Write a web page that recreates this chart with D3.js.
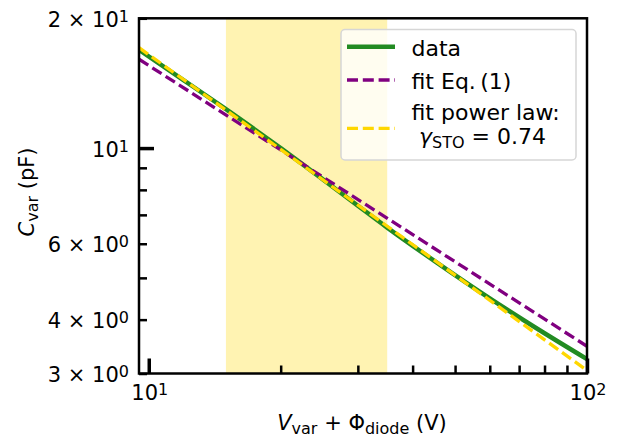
<!DOCTYPE html>
<html>
<head>
<meta charset="utf-8">
<script src="https://cdn.jsdelivr.net/npm/d3@7"></script>
<style>
  html, body { margin: 0; padding: 0; background: #fff; }
  svg { display: block; font-family: "DejaVu Sans", sans-serif; }
</style>
</head>
<body>
<svg id="chart" width="623" height="438"></svg>
<script>
// ---- data ----
const xData   = [9.5, 12, 15, 20, 25, 30, 35, 45, 60, 80, 100];
const cData   = [16.9, 14.38, 12.31, 10.0, 8.45, 7.35, 6.54, 5.46, 4.48, 3.72, 3.24];
const xFitEq  = [9.5, 20, 50, 100];
const cFitEq  = [16.07, 9.9, 5.45, 3.47];
const xFitPow = [9.5, 20, 100];
const cFitPow = [17.1, 9.93, 3.05];
const shadeRange = [15, 35];

const xMajorTicks = [10, 100];
const xMinorTicks = [20, 30, 40, 50, 60, 70, 80, 90];
const xTickMant = ["10", "10"];
const xTickExp  = ["1", "2"];
const yMajorTicks = [10];
const yMinorTicks = [3, 4, 5, 6, 7, 8, 9, 20];
const yLabelTicks = [3, 4, 6, 10, 20];
const yTickMant = ["3 × 10", "4 × 10", "6 × 10", "10", "2 × 10"];
const yTickExp  = ["0", "0", "0", "1", "1"];

const legendLabels = ["data", "fit Eq.\u2009(1)", "fit power law:"];

// ---- layout ----
const L = 139, R = 587, T = 18.3, B = 373.5;
const FS = 21, FSS = 16, LFS = 22, LFSS = 16;
const svg = d3.select("#chart");

const x = d3.scaleLog().domain([9.5, 100]).range([L, R]);
const y = d3.scaleLog().domain([3, 20]).range([B, T]);

svg.append("defs").append("clipPath").attr("id", "clip")
  .append("rect").attr("x", L).attr("y", T).attr("width", R - L).attr("height", B - T);

// shaded span
svg.append("rect")
  .attr("x", x(shadeRange[0])).attr("y", T)
  .attr("width", x(shadeRange[1]) - x(shadeRange[0])).attr("height", B - T)
  .attr("fill", "#FFD700").attr("fill-opacity", 0.3);

// lines
const g = svg.append("g").attr("clip-path", "url(#clip)");
const mk = (xs, cs) => xs.map((v, i) => [v, cs[i]]);
const line = d3.line().x(d => x(d[0])).y(d => y(d[1])).curve(d3.curveMonotoneX);
const lineStraight = d3.line().x(d => x(d[0])).y(d => y(d[1]));

g.append("path").attr("d", line(mk(xData, cData)))
  .attr("fill", "none").attr("stroke", "#228B22").attr("stroke-width", 4.5);
g.append("path").attr("d", lineStraight(mk(xFitEq, cFitEq)))
  .attr("fill", "none").attr("stroke", "#800080").attr("stroke-width", 3.3)
  .attr("stroke-dasharray", "11,4.8");
g.append("path").attr("d", lineStraight(mk(xFitPow, cFitPow)))
  .attr("fill", "none").attr("stroke", "#FFD700").attr("stroke-width", 3.3)
  .attr("stroke-dasharray", "11,4.8");

// axes (ticks inward)
function styleAxis(sel, w) {
  sel.select(".domain").remove();
  sel.selectAll(".tick line").attr("stroke", "#000").attr("stroke-width", w);
  sel.selectAll(".tick text").remove();
}
svg.append("g").attr("transform", `translate(0,${B})`)
  .call(d3.axisBottom(x).tickValues(xMinorTicks).tickSize(-8).tickFormat(""))
  .call(s => styleAxis(s, 2.5));
svg.append("g").attr("transform", `translate(0,${B})`)
  .call(d3.axisBottom(x).tickValues(xMajorTicks).tickSize(-15).tickFormat(""))
  .call(s => styleAxis(s, 3.5));
svg.append("g").attr("transform", `translate(${L},0)`)
  .call(d3.axisLeft(y).tickValues(yMinorTicks).tickSize(-8).tickFormat(""))
  .call(s => styleAxis(s, 2.5));
svg.append("g").attr("transform", `translate(${L},0)`)
  .call(d3.axisLeft(y).tickValues(yMajorTicks).tickSize(-15).tickFormat(""))
  .call(s => styleAxis(s, 3.5));

// spines
svg.append("rect").attr("x", L).attr("y", T).attr("width", R - L).attr("height", B - T)
  .attr("fill", "none").attr("stroke", "#000").attr("stroke-width", 2.5);

// tick labels
function supLabel(parent, xx, yy, mant, exp, anchor) {
  const t = parent.append("text").attr("x", xx).attr("y", yy)
    .attr("text-anchor", anchor).attr("font-size", FS).attr("fill", "#000");
  t.append("tspan").text(mant);
  t.append("tspan").attr("font-size", FSS).attr("dy", -5).text(exp);
  return t;
}
xMajorTicks.forEach((v, i) => supLabel(svg, x(v) + 1, 399.5, xTickMant[i], xTickExp[i], "middle"));
yLabelTicks.forEach((v, i) => supLabel(svg, 129, y(v) + 8.5, yTickMant[i], yTickExp[i], "end"));

// axis labels
const xl = svg.append("text").attr("x", 362).attr("y", 430).attr("text-anchor", "middle")
  .attr("font-size", FS);
xl.append("tspan").attr("font-style", "italic").text("V");
xl.append("tspan").attr("font-size", FSS).attr("dy", 4).text("var");
xl.append("tspan").attr("dy", -4).text(" + Φ");
xl.append("tspan").attr("font-size", FSS).attr("dy", 4).text("diode");
xl.append("tspan").attr("dy", -4).text(" (V)");

const yl = svg.append("text").attr("transform", "translate(33.5,192) rotate(-90)")
  .attr("text-anchor", "middle").attr("font-size", FS);
yl.append("tspan").attr("font-style", "italic").text("C");
yl.append("tspan").attr("font-size", FSS).attr("dy", 4).text("var");
yl.append("tspan").attr("dy", -4).text(" (pF)");

// legend
const lg = svg.append("g");
lg.append("rect").attr("x", 341).attr("y", 29.5).attr("width", 235).attr("height", 130.5)
  .attr("rx", 4).attr("fill", "#fff").attr("fill-opacity", 0.8)
  .attr("stroke", "#d6d6d6").attr("stroke-width", 1.5);
const handles = [
  {y: 46.7, color: "#228B22", w: 4.5, dash: null},
  {y: 80,   color: "#800080", w: 3.3, dash: "11,4.8"},
  {y: 128.3,color: "#FFD700", w: 3.3, dash: "11,4.8"}
];
handles.forEach(h => {
  const l = lg.append("line").attr("x1", 347).attr("x2", 395).attr("y1", h.y).attr("y2", h.y)
    .attr("stroke", h.color).attr("stroke-width", h.w);
  if (h.dash) l.attr("stroke-dasharray", h.dash);
});
const textY = [55.7, 89, 120];
legendLabels.forEach((s, i) => lg.append("text").attr("x", 411.5).attr("y", textY[i])
  .attr("font-size", LFS).text(s));
const gt = lg.append("text").attr("x", 419).attr("y", 144).attr("font-size", LFS);
gt.append("tspan").attr("font-style", "italic").text("γ");
gt.append("tspan").attr("font-size", LFSS).attr("dy", 4).text("STO");
gt.append("tspan").attr("dy", -4).text(" = 0.74");
</script>
</body>
</html>
